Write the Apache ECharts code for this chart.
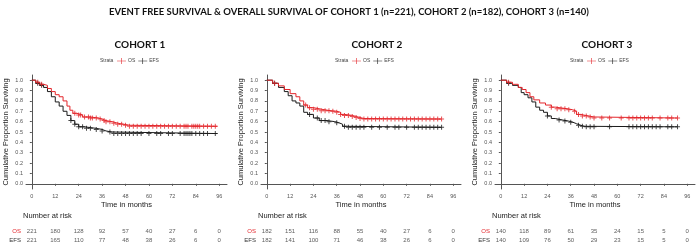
<!DOCTYPE html>
<html>
<head>
<meta charset="utf-8">
<script src="https://cdn.jsdelivr.net/npm/echarts@6/dist/echarts.min.js"></script>
<style>
  html, body { margin: 0; padding: 0; background: #fff; }
  #main { width: 698px; height: 248px; }
</style>
</head>
<body>
<div id="main"></div>
<script>
// tick labels
const xTicks = [0, 12, 24, 36, 48, 60, 72, 84, 96]
const yTicks = [0, 0.1, 0.2, 0.3, 0.4, 0.5, 0.6, 0.7, 0.8, 0.9, 1.0]
const cohortNames = ['COHORT 1', 'COHORT 2', 'COHORT 3']

// KM step points (months / survival)
const c1OsTime = [0, 2, 4, 6, 8, 10, 12, 14, 16, 18, 19.5, 21, 23, 26, 30, 34, 36, 38, 41, 44, 47, 50, 95]
const c1OsSurv = [1, 0.98, 0.96, 0.95, 0.92, 0.89, 0.86, 0.84, 0.80, 0.75, 0.71, 0.68, 0.665, 0.645, 0.635, 0.625, 0.61, 0.60, 0.585, 0.575, 0.565, 0.555, 0.555]
const c1EfsTime = [0, 2, 4, 6, 8, 10, 12, 14, 16, 18, 20, 22, 24, 27, 33, 36, 38, 41, 95]
const c1EfsSurv = [1, 0.97, 0.95, 0.93, 0.89, 0.84, 0.79, 0.75, 0.70, 0.66, 0.61, 0.575, 0.55, 0.535, 0.525, 0.51, 0.50, 0.485, 0.485]

const c2OsTime = [0, 3, 6, 9, 12, 15, 17, 19, 21, 24, 28, 33, 36, 38, 40, 44, 46, 48, 50, 90]
const c2OsSurv = [1, 0.97, 0.945, 0.91, 0.87, 0.84, 0.80, 0.76, 0.735, 0.72, 0.705, 0.70, 0.69, 0.67, 0.66, 0.65, 0.64, 0.63, 0.625, 0.625]
const c2EfsTime = [0, 3, 6, 9, 11, 13, 15, 17, 19, 21, 24, 27, 31, 35, 37, 39, 41, 90]
const c2EfsSurv = [1, 0.97, 0.93, 0.89, 0.85, 0.80, 0.78, 0.75, 0.69, 0.67, 0.635, 0.61, 0.60, 0.59, 0.575, 0.555, 0.545, 0.545]

const c3OsTime = [0, 3, 6, 9, 11, 13, 15, 17, 20, 23, 26, 28, 34, 37, 39, 41, 45, 48, 91]
const c3OsSurv = [1, 0.98, 0.96, 0.93, 0.91, 0.88, 0.84, 0.81, 0.78, 0.76, 0.74, 0.725, 0.715, 0.70, 0.67, 0.655, 0.645, 0.635, 0.635]
const c3EfsTime = [0, 3, 6, 9, 10.5, 12, 14, 16, 18, 20, 22, 24, 26, 28, 32, 35, 37, 39, 41, 43, 91]
const c3EfsSurv = [1, 0.97, 0.95, 0.93, 0.88, 0.86, 0.83, 0.79, 0.74, 0.71, 0.69, 0.655, 0.63, 0.615, 0.605, 0.595, 0.58, 0.565, 0.555, 0.55, 0.55]

// censoring times (the "+" marks)
const c1OsCens = [3, 5, 22, 24, 25, 27, 29, 30, 31, 33, 35, 37, 38, 40, 42, 44, 46, 48, 50, 52, 54, 56, 58, 60, 62, 64, 66, 68, 70, 72, 74, 76, 78, 79, 80, 82, 83, 84, 85, 86, 88, 90, 92, 94]
const c1EfsCens = [3, 5, 20, 22, 24, 26, 28, 30, 33, 36, 40, 42, 44, 46, 48, 50, 52, 54, 56, 60, 64, 66, 70, 72, 76, 78, 79, 80, 81, 82, 84, 86, 88, 90, 94]
const c2OsCens = [4, 20, 22, 24, 26, 28, 30, 32, 34, 36, 38, 40, 42, 44, 46, 48, 50, 52, 54, 56, 58, 60, 62, 64, 66, 68, 70, 72, 74, 76, 78, 80, 82, 84, 86, 88, 90]
const c2EfsCens = [4, 22, 26, 28, 30, 32, 36, 40, 42, 44, 46, 48, 50, 54, 58, 62, 66, 68, 72, 76, 78, 80, 82, 84, 86, 88, 90]
const c3OsCens = [4, 26, 29, 31, 33, 35, 38, 40, 42, 44, 46, 48, 52, 56, 62, 66, 68, 70, 72, 74, 76, 78, 82, 86, 88, 91]
const c3EfsCens = [4, 24, 30, 33, 36, 40, 42, 44, 46, 48, 56, 66, 68, 70, 72, 74, 76, 78, 80, 82, 86, 88, 91]

// number at risk at each x tick
const c1OsRisk = [221, 180, 128, 92, 57, 40, 27, 6, 0]
const c1EfsRisk = [221, 165, 110, 77, 48, 38, 26, 6, 0]
const c2OsRisk = [182, 151, 116, 88, 55, 40, 27, 6, 0]
const c2EfsRisk = [182, 141, 100, 71, 46, 38, 26, 6, 0]
const c3OsRisk = [140, 118, 89, 61, 35, 24, 15, 5, 0]
const c3EfsRisk = [140, 109, 76, 50, 29, 23, 15, 5, 0]

const cohorts = [
  { osT: c1OsTime, osS: c1OsSurv, efsT: c1EfsTime, efsS: c1EfsSurv, osC: c1OsCens, efsC: c1EfsCens, osR: c1OsRisk, efsR: c1EfsRisk },
  { osT: c2OsTime, osS: c2OsSurv, efsT: c2EfsTime, efsS: c2EfsSurv, osC: c2OsCens, efsC: c2EfsCens, osR: c2OsRisk, efsR: c2EfsRisk },
  { osT: c3OsTime, osS: c3OsSurv, efsT: c3EfsTime, efsS: c3EfsSurv, osC: c3OsCens, efsC: c3EfsCens, osR: c3OsRisk, efsR: c3EfsRisk }
]

// panel layout (x of the y axis, panel width)
const panels = [
  { left: 26, width: 201, title: 135, legend: 100 },
  { left: 261, width: 200, title: 372, legend: 335 },
  { left: 495, width: 200, title: 602, legend: 570 }
]

const RED = '#e3262b'
const BLACK = '#1a1a1a'
const AXIS = '#555'
const PLUS = 'path://M4,0 L6,0 L6,4 L10,4 L10,6 L6,6 L6,10 L4,10 L4,6 L0,6 L0,4 L4,4 Z'
const LEG = 'path://M0,4.4 L7,4.4 L7,0 L8,0 L8,4.4 L15,4.4 L15,5.6 L8,5.6 L8,10 L7,10 L7,5.6 L0,5.6 Z'

const survAt = (times, surv, t) => {
  let s = surv[0]
  for (let i = 0; i < times.length; i++) {
    if (times[i] <= t) s = surv[i]
  }
  return s
}
const zip = (a, b) => a.map((v, i) => [v, b[i]])

const chart = echarts.init(document.getElementById('main'))

const option = {
  animation: false,
  textStyle: { fontFamily: 'Liberation Sans, Arial, sans-serif' },
  title: [
    {
      text: 'EVENT FREE SURVIVAL & OVERALL SURVIVAL OF COHORT 1 (n=221), COHORT 2 (n=182), COHORT 3 (n=140)',
      left: 'center', top: 2,
      textStyle: { fontFamily: 'Lato', fontWeight: 'bold', fontSize: 9.5, color: '#111' }
    }
  ].concat(panels.map((p, i) => ({
    text: cohortNames[i],
    left: p.title, top: 35, textAlign: 'center',
    textStyle: { fontFamily: 'Lato', fontWeight: 'bold', fontSize: 10, color: '#111' }
  }))),
  legend: panels.map(p => ({
    data: ['OS', 'EFS'],
    left: p.legend + 17, top: 58, padding: 0,
    itemWidth: 9, itemHeight: 6, itemGap: 3,
    icon: LEG,
    textStyle: { fontSize: 5, color: '#444', padding: [0, 0, 0, -3] },
    selectedMode: false
  })),
  grid: [].concat(
    panels.map(p => ({ left: p.left, width: p.width, top: 75, height: 114 })),
    panels.map(p => ({ left: p.left, width: p.width, top: 227, height: 18 }))
  ),
  xAxis: [].concat(
    panels.map((p, i) => ({
      gridIndex: i, type: 'value', min: -3, max: 100,
      name: 'Time in months', nameLocation: 'middle', nameGap: 12,
      nameTextStyle: { fontSize: 7.5, color: '#222' },
      axisLine: { lineStyle: { color: AXIS, width: 1 } },
      axisTick: { customValues: xTicks, length: 2, lineStyle: { color: AXIS } },
      axisLabel: { customValues: xTicks, fontSize: 5.5, color: '#555', margin: 4 },
      splitLine: { show: false }
    })),
    panels.map((p, i) => ({
      gridIndex: i + 3, type: 'value', min: -3, max: 100, show: false
    }))
  ),
  yAxis: [].concat(
    panels.map((p, i) => ({
      gridIndex: i, type: 'value', min: -0.05, max: 1.05,
      name: 'Cumulative Proportion Surviving', nameLocation: 'middle', nameGap: 16,
      nameTextStyle: { fontSize: 7.5, color: '#222' },
      axisLine: { show: true, lineStyle: { color: AXIS, width: 1 } },
      axisTick: { show: true, customValues: yTicks, length: 2, lineStyle: { color: AXIS } },
      axisLabel: { customValues: yTicks, fontSize: 5.5, color: '#555', margin: 3, formatter: v => v.toFixed(1) },
      splitLine: { show: false }
    })),
    panels.map((p, i) => ({
      gridIndex: i + 3, type: 'category', data: ['EFS', 'OS'],
      axisLine: { show: false }, axisTick: { show: false },
      axisLabel: {
        fontSize: 6, margin: 5,
        formatter: v => v === 'OS' ? '{r|OS}' : '{k|EFS}',
        rich: { r: { color: RED, fontSize: 6 }, k: { color: '#333', fontSize: 6 } }
      }
    }))
  ),
  graphic: [].concat(
    panels.map(p => ({
      type: 'text', left: p.legend, top: 58.5,
      style: { text: 'Strata', fontSize: 5, fill: '#444' }
    })),
    panels.map(p => ({
      type: 'text', left: p.left - 3, top: 212,
      style: { text: 'Number at risk', fontSize: 7.5, fill: '#222' }
    }))
  ),
  series: []
}

cohorts.forEach((c, i) => {
  option.series.push(
    {
      name: 'OS', type: 'line', xAxisIndex: i, yAxisIndex: i, step: 'end',
      showSymbol: false, lineStyle: { color: RED, width: 1 }, itemStyle: { color: RED },
      data: zip(c.osT, c.osS), z: 3
    },
    {
      name: 'EFS', type: 'line', xAxisIndex: i, yAxisIndex: i, step: 'end',
      showSymbol: false, lineStyle: { color: BLACK, width: 1 }, itemStyle: { color: BLACK },
      data: zip(c.efsT, c.efsS), z: 2
    },
    {
      name: 'OS', type: 'scatter', xAxisIndex: i, yAxisIndex: i,
      symbol: PLUS, symbolSize: 5, itemStyle: { color: RED },
      data: c.osC.map(t => [t, survAt(c.osT, c.osS, t)]), z: 4
    },
    {
      name: 'EFS', type: 'scatter', xAxisIndex: i, yAxisIndex: i,
      symbol: PLUS, symbolSize: 5, itemStyle: { color: BLACK },
      data: c.efsC.map(t => [t, survAt(c.efsT, c.efsS, t)]), z: 3
    },
    {
      name: 'risk', type: 'scatter', xAxisIndex: i + 3, yAxisIndex: i + 3,
      symbolSize: 0, silent: true,
      label: { show: true, position: 'inside', fontSize: 6, color: '#333', formatter: p => p.value[2] },
      data: xTicks.map((t, k) => [t, 'OS', c.osR[k]]).concat(xTicks.map((t, k) => [t, 'EFS', c.efsR[k]]))
    }
  )
})

chart.setOption(option)

window.addEventListener('resize', () => chart.resize())
</script>
</body>
</html>
